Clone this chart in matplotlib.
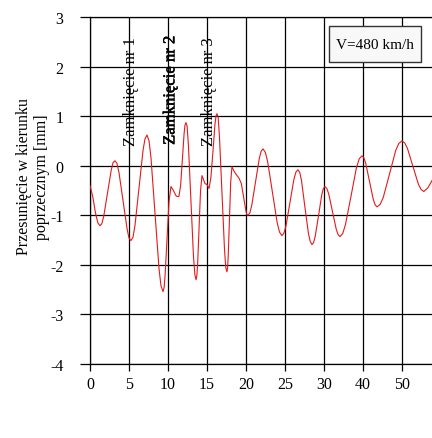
import matplotlib
matplotlib.use('Agg')
import matplotlib.pyplot as plt
import matplotlib.patheffects as pe
from matplotlib.patches import Rectangle

plt.rcParams['font.family'] = 'Liberation Serif'
plt.rcParams['axes.unicode_minus'] = False

# (os x w jednostkach siatki: 5 na kratke)
x = [0.0, 0.35, 0.7, 1.0, 1.28, 1.52, 1.76, 2.24, 2.72, 2.95, 3.2, 3.45, 3.72,
     4.23, 4.75, 5.0, 5.26, 5.52, 5.77, 6.28, 6.8, 7.05, 7.31, 7.57, 7.82, 8.33,
     8.85, 9.1, 9.36, 9.5, 9.62, 9.87, 10.13, 10.38, 10.7, 11.0, 11.15, 11.4,
     11.62, 11.85, 12.07, 12.18, 12.3, 12.45, 12.62, 12.95, 13.27, 13.45, 13.6,
     13.7, 13.8, 13.98, 14.17, 14.36, 14.55, 14.74, 15.0, 15.26, 15.5, 15.77,
     16.02, 16.15, 16.28, 16.43, 16.6, 16.92, 17.24, 17.4, 17.56, 17.64, 17.72,
     17.88, 18.04, 18.2, 18.5, 18.85, 19.1, 19.4, 19.68, 19.97, 20.1, 20.26,
     20.5, 20.74, 21.22, 21.7, 21.94, 22.18, 22.48, 22.78, 23.39, 24.0, 24.3,
     24.6, 24.86, 25.12, 25.63, 26.15, 26.4, 26.67, 26.9, 27.12, 27.56, 28.01,
     28.24, 28.46, 28.67, 28.88, 29.3, 29.71, 29.92, 30.13, 30.37, 30.61, 31.09,
     31.57, 31.81, 32.05, 32.4, 32.75, 33.46, 34.16, 34.52, 34.87, 35.11, 35.35,
     35.84, 36.32, 36.56, 36.8, 37.2, 37.6, 38.4, 39.2, 39.6, 40.0, 40.35, 40.7,
     41.4, 42.1, 42.45, 42.8, 43.3, 43.85]
y = [-0.40, -0.62, -0.95, -1.15, -1.21, -1.17, -1.02, -0.56, -0.09, 0.06, 0.10,
     0.05, -0.14, -0.70, -1.27, -1.46, -1.51, -1.44, -1.20, -0.45, 0.31, 0.54,
     0.62, 0.50, 0.16, -0.96, -2.08, -2.42, -2.54, -2.46, -2.23, -1.48, -0.73,
     -0.42, -0.50, -0.60, -0.62, -0.62, -0.40, 0.13, 0.66, 0.82, 0.87, 0.80,
     0.41, -0.72, -1.84, -2.20, -2.30, -2.22, -1.99, -1.25, -0.51, -0.20, -0.28,
     -0.36, -0.38, -0.46, -0.24, 0.30, 0.83, 1.00, 1.05, 0.98, 0.58, -0.55,
     -1.67, -2.05, -2.14, -2.06, -1.83, -1.08, -0.33, -0.02, -0.12, -0.20,
     -0.25, -0.36, -0.62, -0.89, -0.98, -1.00, -0.95, -0.80, -0.33, 0.14, 0.29,
     0.34, 0.27, 0.08, -0.54, -1.15, -1.34, -1.41, -1.36, -1.22, -0.75, -0.27,
     -0.13, -0.08, -0.14, -0.30, -0.84, -1.37, -1.53, -1.59, -1.55, -1.42,
     -1.01, -0.59, -0.46, -0.42, -0.46, -0.57, -0.93, -1.28, -1.39, -1.43,
     -1.37, -1.19, -0.62, -0.04, 0.14, 0.20, 0.16, 0.05, -0.32, -0.68, -0.79,
     -0.83, -0.78, -0.64, -0.17, 0.31, 0.45, 0.50, 0.46, 0.35, -0.01, -0.37,
     -0.48, -0.52, -0.45, -0.30]

xticks = [0, 5, 10, 15, 20, 25, 30, 35, 40]
xlabels = ['0', '5', '10', '15', '20', '25', '30', '40', '50']
yticks = [-4, -3, -2, -1, 0, 1, 2, 3]
zamkniecia = [5, 10, 15]
napisy = ['Zamknięcie nr 1', 'Zamknięcie nr 2', 'Zamknięcie nr 3']

fig = plt.figure(figsize=(4.32, 4.39), dpi=100)
ax = fig.add_axes([90/432, 1 - 365/439, 342/432, 347/439])

ax.plot(x, y, color='#e31a1c', lw=0.8, zorder=3)

ax.set_xlim(0, 43.85)
ax.set_ylim(-4, 3)
ax.set_xticks(xticks)
ax.set_xticklabels(xlabels)
ax.set_yticks(yticks)
ax.grid(True, color='black', lw=0.9)
ax.set_axisbelow(True)
ax.tick_params(axis='y', direction='out', length=7, width=0.9, pad=12, labelsize=11.5)
ax.tick_params(axis='x', direction='out', length=5, width=0.9, pad=4, labelsize=11.5)
ax.spines['right'].set_visible(False)
for s in ['left', 'bottom', 'top']:
    ax.spines[s].set_linewidth(0.9)

for xz, t in zip(zamkniecia, napisy):
    txt = ax.text(xz + 0.3, 0.42, t, rotation=90, ha='center', va='bottom',
                  fontsize=12, zorder=4)
    if t.endswith('2'):
        # w oryginale ten napis jest jakby wydrukowany dwa razy
        txt.set_path_effects([pe.withStroke(linewidth=0.35, foreground='black')])

ax.add_patch(Rectangle((0.699, 0.870), 0.269, 0.1037, transform=ax.transAxes,
                       facecolor='#f8f8f8', edgecolor='#333333', lw=1.0, zorder=5))
ax.text(0.834, 0.922, 'V=480 km/h', transform=ax.transAxes, ha='center', va='center',
        fontsize=11, zorder=6)

fig.text(33/432, 1 - 177/439, 'Przesunięcie w kierunku\npoprzecznym [mm]', rotation=90,
         ha='center', va='center', multialignment='center', fontsize=11.5, linespacing=1.1)

fig.savefig('out.png', dpi=100)
